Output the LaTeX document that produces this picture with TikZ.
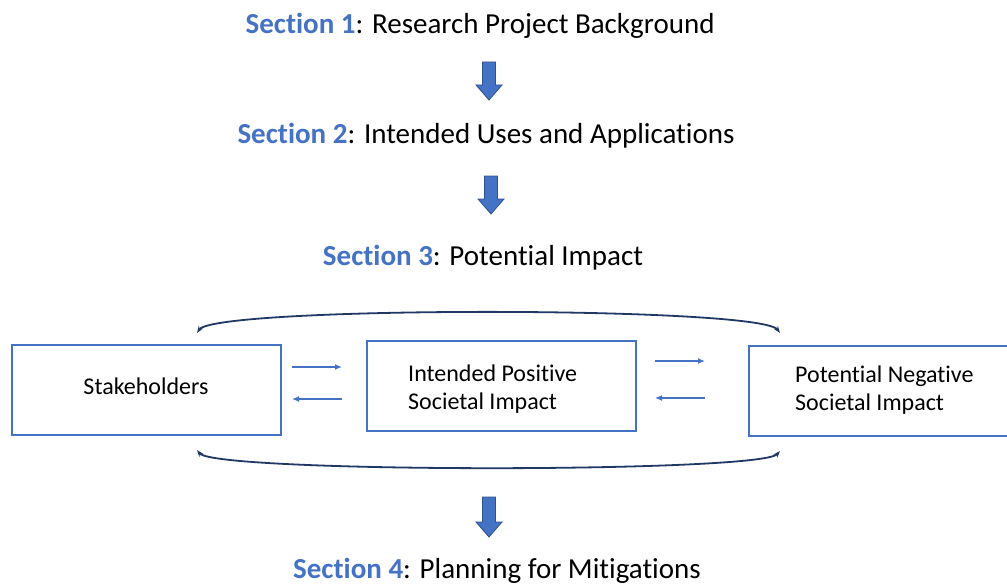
\documentclass[tikz,border=0pt]{standalone}
\usepackage{fontspec}
\setmainfont{Carlito}[Ligatures=NoCommon]
\usetikzlibrary{arrows.meta}
\definecolor{secblue}{HTML}{4472C4}
\definecolor{navy}{HTML}{203864}
\definecolor{arrowedge}{HTML}{2F528F}
\tikzset{
  title/.style={anchor=base, inner sep=0pt, font=\fontsize{29}{34}\selectfont},
  impbox/.style={draw=secblue, line width=2.2pt, inner sep=0pt},
  boxtext/.style={anchor=base west, inner sep=0pt, font=\fontsize{24}{28}\selectfont},
  smallarrow/.style={draw=secblue, line width=1.5pt, -{Latex[length=7pt,width=6pt]}},
  loopcurve/.style={draw=navy, line width=1.8pt, {Stealth[length=7pt,width=5pt]}-{Stealth[length=7pt,width=5pt]}},
  blockarrow/.style={fill=secblue, draw=arrowedge, line width=0.8pt}
}
\newcommand{\sect}[1]{\textcolor{secblue}{\textbf{#1}}}
\begin{document}
\begin{tikzpicture}[x=1pt,y=-1pt]
\useasboundingbox (0,0) rectangle (1007,586);
\clip (0,0) rectangle (1007,586);

% titles
\node[title] (s1) at (480,34) {\sect{Section 1}: Research Project Background};
\node[title] (s2) at (486,143) {\sect{Section 2}: Intended Uses and Applications};
\node[title] (s3) at (483,265) {\sect{Section 3}: Potential Impact};
\node[title] (s4) at (497,578) {\sect{Section 4}: Planning for Mitigations};

% block arrows
\newcommand{\blockarrow}[3]{% x, top, bottom
  \path[blockarrow] (#1-6.5,#2) -- (#1+6.5,#2) -- (#1+6.5,#3-15) -- (#1+13,#3-15)
    -- (#1,#3) -- (#1-13,#3-15) -- (#1-6.5,#3-15) -- cycle;}
\blockarrow{489}{62}{100}
\blockarrow{491}{176}{214}
\blockarrow{489}{497}{537}

% boxes
\node[impbox, minimum width=269pt, minimum height=90pt] (sh) at (146.5,390) {};
\node[impbox, minimum width=269pt, minimum height=90pt] (pos) at (501.5,386) {};
\node[impbox, minimum width=270pt, minimum height=90pt] (neg) at (884,391) {};

\node[anchor=base, inner sep=0pt, font=\fontsize{24}{28}\selectfont] (shT) at (146,394) {Stakeholders};
\node[boxtext] (posA) at (408,381) {Intended Positive};
\node[boxtext] (posB) at (408,409) {Societal Impact};
\node[boxtext] (negA) at (795,382) {Potential Negative};
\node[boxtext] (negB) at (795,410) {Societal Impact};

% small arrows between boxes
\coordinate (a1s) at (292,367); \coordinate (a1e) at (342,367);
\coordinate (a2s) at (342,399); \coordinate (a2e) at (292,399);
\coordinate (a3s) at (655,361); \coordinate (a3e) at (705,361);
\coordinate (a4s) at (705,398); \coordinate (a4e) at (655,398);
\draw[smallarrow] (a1s) -- (a1e);
\draw[smallarrow] (a2s) -- (a2e);
\draw[smallarrow] (a3s) -- (a3e);
\draw[smallarrow] (a4s) -- (a4e);

% enclosing curves
\coordinate (tl) at (197,333); \coordinate (tr) at (780,333);
\coordinate (bl) at (197,450); \coordinate (br) at (780,451);
\draw[loopcurve] (tl) .. controls (215,306) and (760,306) .. (tr);
\draw[loopcurve] (bl) .. controls (215,473) and (760,473) .. (br);
\end{tikzpicture}
\end{document}
